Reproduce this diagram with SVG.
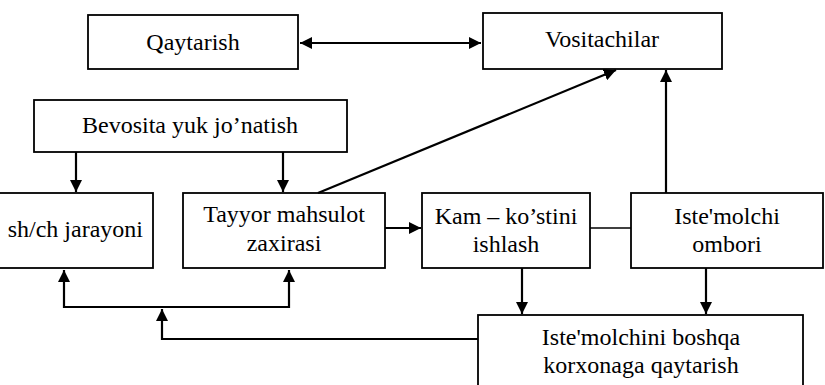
<svg xmlns="http://www.w3.org/2000/svg" width="825" height="385" viewBox="0 0 825 385">
<style>
.box{fill:#fff;stroke:#000;stroke-width:1.8}
.t{font-size:24px;fill:#000;text-anchor:middle}
.c{fill:none;stroke:#000;stroke-width:2.2}
.l{fill:none;stroke:#000;stroke-width:1.6}
</style>
<defs>
<marker id="ah" viewBox="0 0 10 10" refX="10" refY="5" markerWidth="5.5" markerHeight="5.5" orient="auto-start-reverse" markerUnits="strokeWidth">
<path d="M0,0 L10,5 L0,10 Z" fill="#000"/>
</marker>
</defs>
<rect width="825" height="385" fill="#fff"/>
<g font-family="Liberation Serif, Times New Roman, Tinos, DejaVu Serif, Noto Serif, serif">
<g id="qaytarish"><rect class="box" x="88" y="15" width="210" height="54"/><text class="t" x="193" y="50">Qaytarish</text></g>
<g id="vositachilar"><rect class="box" x="483" y="13" width="239" height="56"/><text class="t" x="602" y="47">Vositachilar</text></g>
<g id="bevosita"><rect class="box" x="34" y="100" width="313" height="52"/><text class="t" x="190" y="133">Bevosita yuk jo’natish</text></g>
<g id="jarayon"><rect class="box" x="-20" y="193" width="173" height="75"/><text class="t" x="143" y="237" text-anchor="end" style="text-anchor:end">sh/ch jarayoni</text></g>
<g id="tayyor"><rect class="box" x="183" y="193" width="202" height="75"/><text class="t" x="284" y="222">Tayyor mahsulot</text><text class="t" x="284" y="251">zaxirasi</text></g>
<g id="kam"><rect class="box" x="422" y="193" width="168" height="75"/><text class="t" x="506" y="224">Kam – ko’stini</text><text class="t" x="506" y="252">ishlash</text></g>
<g id="ombori"><rect class="box" x="631" y="193" width="192" height="75"/><text class="t" x="727" y="224">Iste'molchi</text><text class="t" x="727" y="252">ombori</text></g>
<g id="boshqa"><rect class="box" x="478" y="315" width="325" height="90"/><text class="t" x="641" y="345">Iste'molchini boshqa</text><text class="t" x="641" y="373">korxonaga qaytarish</text></g>
</g>
<g id="connectors">
<line class="c" x1="300" y1="43" x2="481" y2="43" marker-start="url(#ah)" marker-end="url(#ah)"/>
<line class="c" x1="76" y1="152" x2="76" y2="192" marker-end="url(#ah)"/>
<line class="c" x1="283" y1="152" x2="283" y2="192" marker-end="url(#ah)"/>
<line class="c" x1="318" y1="193" x2="616" y2="70" marker-end="url(#ah)"/>
<line class="c" x1="666" y1="193" x2="666" y2="70" marker-end="url(#ah)"/>
<line class="c" x1="385" y1="228" x2="421" y2="228" marker-end="url(#ah)"/>
<line class="l" x1="590" y1="228" x2="631" y2="228"/>
<line class="c" x1="522" y1="268" x2="522" y2="314" marker-end="url(#ah)"/>
<line class="c" x1="706" y1="268" x2="706" y2="314" marker-end="url(#ah)"/>
<polyline class="c" points="478,339 162,339 162,309" marker-end="url(#ah)"/>
<polyline class="c" points="64,270 64,307 289,307 289,270" marker-start="url(#ah)" marker-end="url(#ah)"/>
</g>
</svg>
